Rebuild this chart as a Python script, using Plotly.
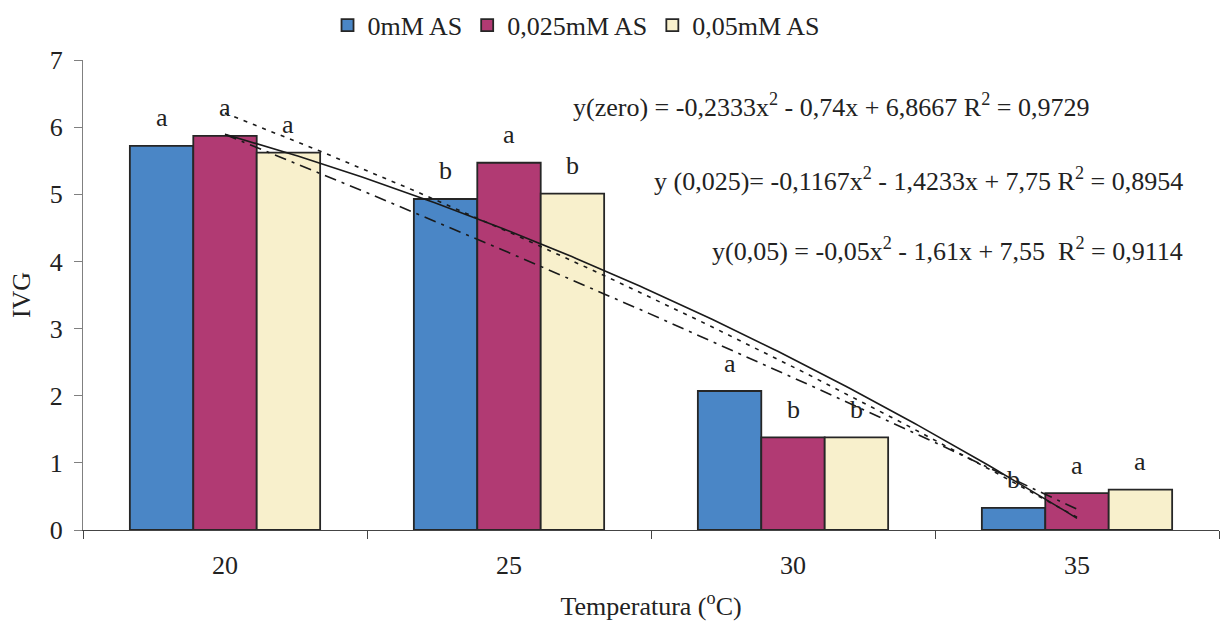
import numpy as np
import plotly.graph_objects as go

categories = ["20", "25", "30", "35"]
series_names = ["0mM AS", "0,025mM AS", "0,05mM AS"]
ivg_0 = [5.72, 4.93, 2.07, 0.33]
ivg_025 = [5.87, 5.47, 1.38, 0.55]
ivg_05 = [5.62, 5.01, 1.38, 0.60]
letters_0 = ["a", "b", "a", "b"]
letters_025 = ["a", "a", "b", "a"]
letters_05 = ["a", "b", "b", "a"]

# polynomial trend lines as printed on the chart: y = a x^2 + b x + c (x = category index 1..4)
coef_zero = [-0.2333, -0.74, 6.8667]
coef_025 = [-0.1167, -1.4233, 7.75]
coef_05 = [-0.05, -1.61, 7.55]
eq_texts = [
    "y(zero) = -0,2333x<sup>2</sup> - 0,74x + 6,8667 R<sup>2</sup> = 0,9729",
    "y (0,025)= -0,1167x<sup>2</sup> - 1,4233x + 7,75 R<sup>2</sup> = 0,8954",
    "y(0,05) = -0,05x<sup>2</sup> - 1,61x + 7,55  R<sup>2</sup> = 0,9114",
]

colors = ["#4A86C6", "#B13A73", "#F8F0CC"]
FONT = "Liberation Serif"
FS = 26
TXT = "#222222"

xs = np.arange(1, len(categories) + 1)
fig = go.Figure()
all_vals = [ivg_0, ivg_025, ivg_05]
all_letters = [letters_0, letters_025, letters_05]
for name, vals, col in zip(series_names, all_vals, colors):
    fig.add_trace(go.Bar(x=xs, y=vals, name=name, marker=dict(color=col, line=dict(color="#262626", width=1.8))))

xd = np.linspace(1, 4, 200)
for coef, dash in [(coef_zero, "solid"), (coef_025, "4px,6px"), (coef_05, "12px,6px,3px,6px")]:
    yd = np.polyval(coef, xd)
    fig.add_trace(go.Scatter(x=xd, y=yd, mode="lines", showlegend=False, hoverinfo="skip",
                             line=dict(color="#1a1a1a", width=1.6, dash=dash)))

bargap = 0.33
bw = (1 - bargap) / 3
annotations = []
for k, (vals, lets) in enumerate(zip(all_vals, all_letters)):
    for i, (v, l) in enumerate(zip(vals, lets)):
        annotations.append(dict(x=xs[i] + (k - 1) * bw, y=v, text=l, showarrow=False,
                                yanchor="middle", yshift=28, font=dict(family=FONT, size=FS, color=TXT)))

eq_pos = [(571, 103), (652, 177), (710, 248)]
for t, (px, py) in zip(eq_texts, eq_pos):
    annotations.append(dict(xref="paper", yref="paper", x=(px - 83) / 1136, y=(530 - py) / 473, text=t,
                            showarrow=False, xanchor="left", yanchor="middle",
                            font=dict(family=FONT, size=FS, color=TXT)))

fig.update_layout(
    width=1221, height=622,
    margin=dict(l=83, r=2, t=57, b=92),
    plot_bgcolor="white", paper_bgcolor="white",
    barmode="group", bargap=bargap, bargroupgap=0,
    font=dict(family=FONT, size=FS, color=TXT),
    legend=dict(orientation="h", x=0.434, xanchor="center", y=1.074, yanchor="middle",
                font=dict(family=FONT, size=FS, color=TXT), itemwidth=30, traceorder="normal"),
    annotations=annotations,
    xaxis=dict(range=[0.5, 4.5], tickvals=list(xs), ticktext=categories, ticks="",
               showline=True, linecolor="#444", linewidth=1.2, showgrid=False, zeroline=False,
               ticklabelstandoff=12,
               title=dict(text="Temperatura (<sup>o</sup>C)", font=dict(family=FONT, size=FS), standoff=17),
               tickfont=dict(family=FONT, size=FS)),
    xaxis2=dict(range=[0.5, 4.5], overlaying="x", side="bottom", tickvals=[0.5, 1.5, 2.5, 3.5, 4.5],
                showticklabels=False, ticks="outside", ticklen=8, tickcolor="#444", tickwidth=1.2,
                showgrid=False, zeroline=False, showline=False),
    yaxis=dict(range=[0, 7], dtick=1, ticks="outside", ticklen=8, tickcolor="#808080", tickwidth=1.2,
               showline=True, linecolor="#808080", linewidth=1.2, showgrid=False, zeroline=False,
               ticklabelstandoff=6,
               title=dict(text="IVG", font=dict(family=FONT, size=FS), standoff=11),
               tickfont=dict(family=FONT, size=FS)),
)
# invisible trace to activate the tick-mark axis
fig.add_trace(go.Scatter(x=[1], y=[0], xaxis="x2", mode="markers", marker=dict(opacity=0),
                         showlegend=False, hoverinfo="skip"))
fig.write_html("out.html")
